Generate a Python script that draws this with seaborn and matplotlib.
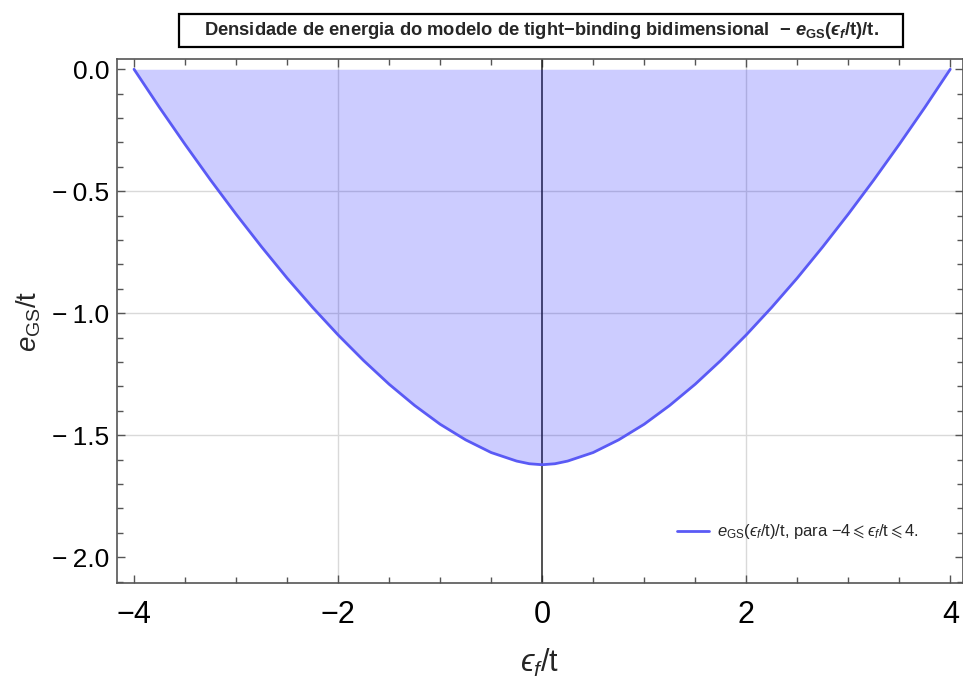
import matplotlib
matplotlib.use("Agg")
import matplotlib.pyplot as plt
from matplotlib import font_manager
from matplotlib.patches import Rectangle
from matplotlib.ticker import MultipleLocator
import seaborn as sns
import pandas as pd

# Ground-state energy density of the 2D tight-binding model
eps_f = [-4.0, -3.75, -3.5, -3.25, -3.0, -2.75, -2.5, -2.25, -2.0, -1.75, -1.5,
         -1.25, -1.0, -0.75, -0.5, -0.25, -0.125, 0.0, 0.125, 0.25, 0.5, 0.75,
         1.0, 1.25, 1.5, 1.75, 2.0, 2.25, 2.5, 2.75, 3.0, 3.25, 3.5, 3.75, 4.0]
e_gs = [0.0, -0.157, -0.308, -0.454, -0.594, -0.728, -0.856, -0.976, -1.089,
        -1.194, -1.291, -1.378, -1.455, -1.519, -1.571, -1.606, -1.617, -1.621,
        -1.617, -1.606, -1.571, -1.519, -1.455, -1.378, -1.291, -1.194, -1.089,
        -0.976, -0.856, -0.728, -0.594, -0.454, -0.308, -0.157, 0.0]

x_ticks = [-4, -2, 0, 2, 4]
y_ticks = [0.0, -0.5, -1.0, -1.5, -2.0]
x_tick_labels = ["\u22124", "\u22122", "0", "2", "4"]
y_tick_labels = ["0.0", "\u2212\u20090.5", "\u2212\u20091.0", "\u2212\u20091.5", "\u2212\u20092.0"]

title_text = ("Densidade de energia do modelo de tight\u2212binding bidimensional  \u2212 "
              "$\\mathbfit{e}_{\\mathbf{GS}}\\mathbf{(}\\mathbfit{\u03f5}_{\\mathbfit{f}}\\mathbf{/t)/t.}$")
legend_text = ("$e_{\\mathrm{GS}}(\u03f5_f/\\mathrm{t})/\\mathrm{t}$, para "
               "$-4\\leqslant \u03f5_f/\\mathrm{t}\\leqslant 4$.")

sns.set_theme(style="white")
plt.rcParams["font.family"] = ["Liberation Sans", "DejaVu Sans"]
plt.rcParams["mathtext.fontset"] = "custom"
plt.rcParams["mathtext.rm"] = "Liberation Sans"
plt.rcParams["mathtext.it"] = "Liberation Sans:italic"
plt.rcParams["mathtext.bf"] = "Liberation Sans:bold"
plt.rcParams["mathtext.bfit"] = "Liberation Sans:italic:bold"
plt.rcParams["mathtext.fallback"] = "stix"

# condensed face for the horizontal tick labels, when available
try:
    font_manager.findfont("Liberation Sans Narrow", fallback_to_default=False)
    narrow = "Liberation Sans Narrow"
except Exception:
    narrow = "Liberation Sans"

df = pd.DataFrame({"eps": eps_f, "e": e_gs})

fig = plt.figure(figsize=(9.63, 6.80), dpi=100)
ax = fig.add_axes([116.7 / 963, 1 - 583.3 / 680, (962.5 - 116.7) / 963, (583.3 - 59) / 680])

line_col = "#5a5af5"

# grid lines
for gx in [-2, 2]:
    ax.axvline(gx, color="#d9d9d9", lw=1.0, zorder=0)
for gy in [-0.5, -1.0, -1.5]:
    ax.axhline(gy, color="#d9d9d9", lw=1.0, zorder=0)
ax.axvline(0, color="#222222", lw=1.1, zorder=1)

ax.fill_between(df["eps"], df["e"], 0, color="#0000ff", alpha=0.2, lw=0, zorder=2)
sns.lineplot(data=df, x="eps", y="e", ax=ax, color=line_col, lw=2.0, zorder=3,
             label=legend_text, sort=False)

ax.set_xlim(-4.17, 4.12)
ax.set_ylim(-2.107, 0.042)

ax.set_xticks(x_ticks)
ax.set_xticklabels(x_tick_labels, fontsize=22, family=[narrow, "DejaVu Sans"])
ax.set_yticks(y_ticks)
ax.set_yticklabels(y_tick_labels, fontsize=19)
ax.xaxis.set_minor_locator(MultipleLocator(0.5))
ax.yaxis.set_minor_locator(MultipleLocator(0.1))
ax.tick_params(which="both", direction="in", top=True, right=True,
               bottom=True, left=True, color="#555555", width=1.0,
               colors="#555555", labelcolor="black")
ax.tick_params(which="major", length=6)
ax.tick_params(which="minor", length=4)
ax.tick_params(axis="x", which="major", pad=12)
ax.tick_params(axis="y", which="major", pad=5.5)
for sp in ax.spines.values():
    sp.set_color("#555555")
    sp.set_linewidth(1.2)

ax.set_xlabel("$\u03f5_f/\\mathrm{t}$", fontsize=22, labelpad=12)
ax.set_ylabel("$e_{\\mathrm{GS}}/\\mathrm{t}$", fontsize=20, labelpad=6)

leg = ax.legend(loc="center left", bbox_to_anchor=(0.645, 0.098), frameon=False,
                fontsize=12, handlelength=1.92, handletextpad=0.45)

# boxed title
fig.patches.append(Rectangle((179 / 963, 1 - 47 / 680), (903 - 179) / 963, 33 / 680,
                             transform=fig.transFigure, fill=False, ec="black", lw=1.6))
fig.text(541 / 963, 1 - 30.5 / 680, title_text, ha="center", va="center",
         fontsize=13.2, fontweight="bold")

fig.savefig("out.png", dpi=100)
